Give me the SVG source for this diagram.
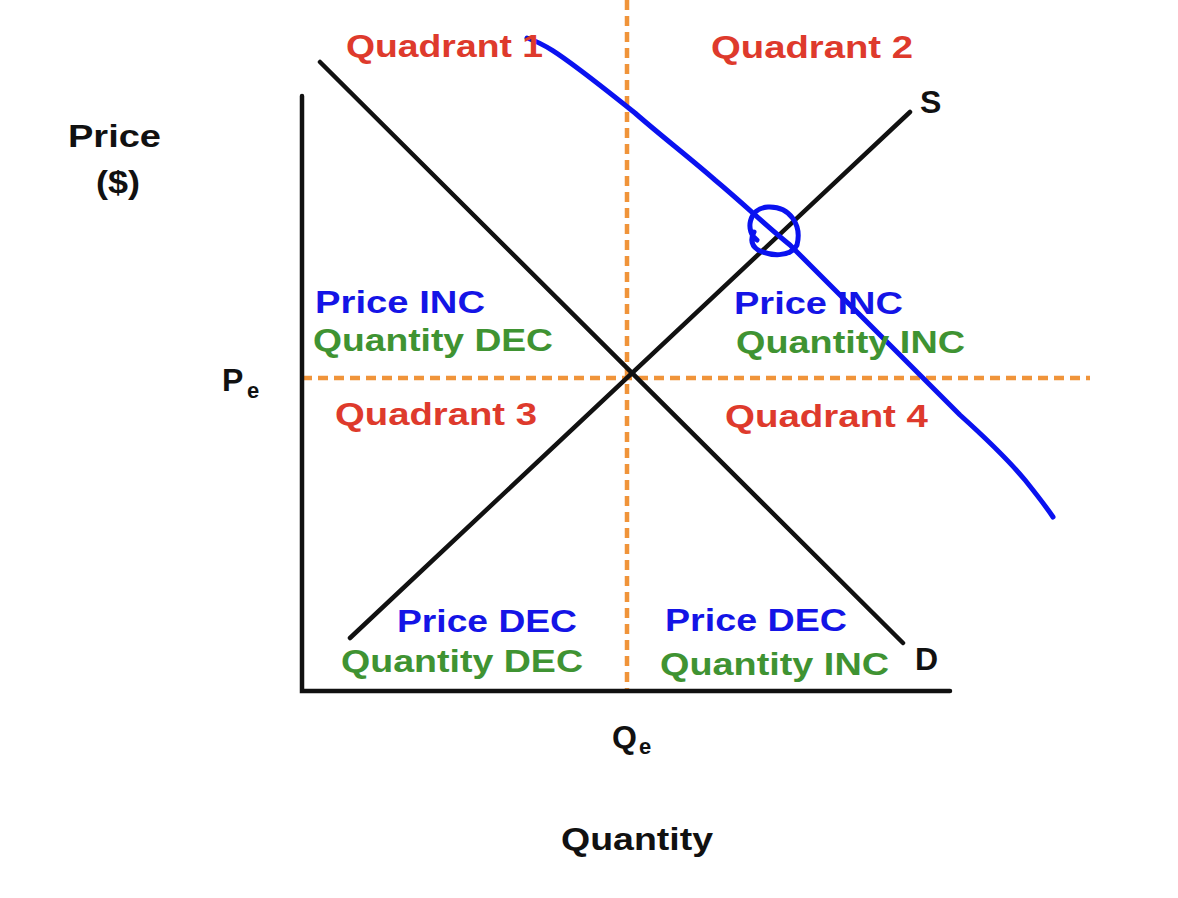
<svg xmlns="http://www.w3.org/2000/svg" width="1178" height="898" viewBox="0 0 1178 898">
<style>
text{font-family:"Liberation Sans",Arial,sans-serif;font-weight:bold;font-size:32px}
.r{fill:#DE3A2C}.b{fill:#1414E6}.g{fill:#3F9332}.k{fill:#111}
.ln{stroke:#111;stroke-width:4.5;stroke-linecap:round;fill:none}
.dash{stroke:#F0943A;stroke-width:4.5;stroke-dasharray:10 6;fill:none}
.blue{stroke:#0A12F0;stroke-width:5;stroke-linecap:round;stroke-linejoin:round;fill:none}
</style>
<rect width="1178" height="898" fill="#fff"/>
<g id="connectors">
<line class="dash" x1="627" y1="0" x2="627" y2="692"/>
<line class="dash" x1="302" y1="378" x2="1090" y2="378"/>
<polyline class="ln" points="302,96 302,691 950,691"/>
<line id="demand" class="ln" x1="320" y1="62" x2="903" y2="643"/>
<line id="supply" class="ln" x1="350" y1="638" x2="910" y2="112"/>
<path class="blue" d="M527,38 C545,44 560,55 580,70 C600,85 615,97 635,113 C660,135 690,158 715,180 C745,205 765,225 790,245 C820,275 845,300 870,325 C900,355 930,385 960,415 C990,442 1010,462 1025,480 C1037,495 1045,505 1053,517"/>
<path class="blue" d="M757,240 C745,232 748,208 768,207 C790,206 802,225 797,245 C790,258 770,256 758,250 C752,246 750,240 754,232"/>
</g>
<g id="axis-labels">
<text class="k" x="68" y="147" textLength="93" lengthAdjust="spacingAndGlyphs">Price</text>
<text class="k" x="96" y="193" textLength="44" lengthAdjust="spacingAndGlyphs">($)</text>
<text class="k" x="222" y="391">P</text>
<text class="k" x="247" y="398" style="font-size:22px">e</text>
<text class="k" x="612" y="748">Q</text>
<text class="k" x="639" y="754" style="font-size:22px">e</text>
<text class="k" x="561" y="850" textLength="152" lengthAdjust="spacingAndGlyphs">Quantity</text>
<text class="k" x="920" y="113">S</text>
<text class="k" x="915" y="670">D</text>
</g>
<g id="q1">
<text class="r" x="346" y="57" textLength="197" lengthAdjust="spacingAndGlyphs">Quadrant 1</text>
</g>
<g id="q2">
<text class="r" x="711" y="58" textLength="202" lengthAdjust="spacingAndGlyphs">Quadrant 2</text>
</g>
<g id="q3-top-left">
<text class="b" x="315" y="313" textLength="170" lengthAdjust="spacingAndGlyphs">Price INC</text>
<text class="g" x="313" y="351" textLength="240" lengthAdjust="spacingAndGlyphs">Quantity DEC</text>
</g>
<g id="q3">
<text class="r" x="335" y="425" textLength="202" lengthAdjust="spacingAndGlyphs">Quadrant 3</text>
</g>
<g id="top-right">
<text class="b" x="734" y="314" textLength="169" lengthAdjust="spacingAndGlyphs">Price INC</text>
<text class="g" x="736" y="353" textLength="229" lengthAdjust="spacingAndGlyphs">Quantity INC</text>
</g>
<g id="q4">
<text class="r" x="725" y="427" textLength="203" lengthAdjust="spacingAndGlyphs">Quadrant 4</text>
</g>
<g id="bottom-left">
<text class="b" x="397" y="632" textLength="180" lengthAdjust="spacingAndGlyphs">Price DEC</text>
<text class="g" x="341" y="672" textLength="242" lengthAdjust="spacingAndGlyphs">Quantity DEC</text>
</g>
<g id="bottom-right">
<text class="b" x="665" y="631" textLength="182" lengthAdjust="spacingAndGlyphs">Price DEC</text>
<text class="g" x="660" y="675" textLength="229" lengthAdjust="spacingAndGlyphs">Quantity INC</text>
</g>
</svg>
